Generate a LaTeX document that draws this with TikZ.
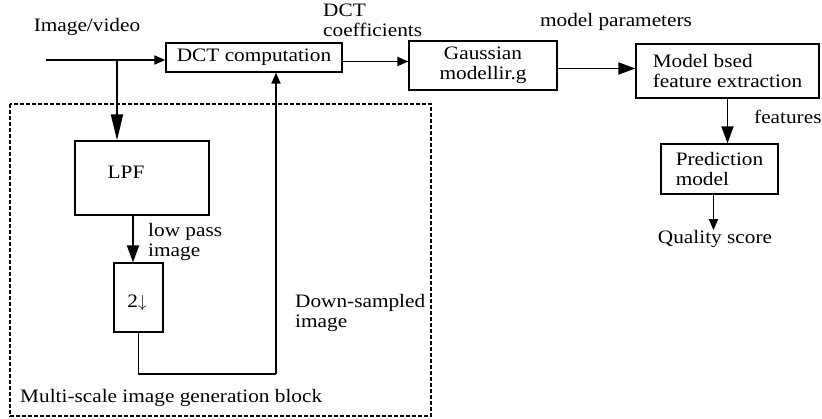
\documentclass[tikz,border=0pt]{standalone}
\usepackage{fontspec}
\setmainfont[FakeStretch=1.12]{Liberation Serif}
\usetikzlibrary{arrows.meta}
\usetikzlibrary{calc}

\begin{document}
\begin{tikzpicture}[x=1pt, y=-1pt,
  every node/.style={font=\fontsize{19}{20}\selectfont},
  blk/.style={draw, line width=1.3pt, inner sep=0},
  lbl/.style={inner sep=0, align=left},
  arr/.style={line width=1.8pt, -{Triangle[length=11pt,width=9pt]}},
  midarr/.style={line width=1.8pt, -{Triangle[length=17pt,width=12pt]}},
  bigarr/.style={line width=1.8pt, -{Triangle[length=26pt,width=12pt]}}]
\useasboundingbox (0,0) rectangle (822,419);
\draw[line width=1.2pt, dash pattern=on 4pt off 2pt] (10,104) rectangle (431,416);
\node[blk, minimum width=176, minimum height=29] (dct) at (254,57.5) {DCT computation};
\node[blk, minimum width=148, minimum height=49, align=center] (gauss) at (483,65.5) {Gaussian\\modellir.g};
\node[blk, minimum width=183, minimum height=54, align=left] (model) at (727.5,71) {Model bsed\\feature extraction};
\node[blk, minimum width=117, minimum height=50, align=left] (pred) at (719.5,169) {Prediction\\model};
\node[blk, minimum width=134, minimum height=74] (lpf) at (142,178) {};
\node[lbl] (lpftxt) at (126,172) {LPF};
\node[blk, minimum width=49, minimum height=69] (ds) at (138.5,297.5) {};
\node[lbl] (dstxt) at (137,303) {2$\Big\downarrow$};
\node[lbl] (imgvid) at (87,27) {Image/video};
\node[lbl, anchor=west] (coef) at (323,20) {DCT\\coefficients};
\node[lbl] (param) at (616,22) {model parameters};
\node[lbl, anchor=west] (feat) at (754,117) {features};
\node[lbl] (qual) at (715,239) {Quality score};
\node[lbl, anchor=west] (lowpass) at (148,242) {low pass\\image};
\node[lbl, anchor=west] (dsimg) at (295,313) {Down-sampled\\image};
\node[lbl, anchor=west] (block) at (20,398) {Multi-scale image generation block};
\coordinate (in) at (46,60);
\coordinate (split) at (117,60);
\coordinate (turn) at (276,374);
\draw[line width=1.8pt] (in) -- (split);
\draw[arr] (split) -- (dct.west |- split);
\draw[bigarr] (split) -- (split |- lpf.north);
\draw[midarr] ([xshift=-9pt]lpf.south) -- ([xshift=-9pt]lpf.south |- ds.north);
\draw[line width=1.3pt] (ds.south) |- (turn);
\draw[arr] (turn) -- (turn |- dct.south);
\draw[arr] ([yshift=-4pt]dct.east) -- ([yshift=-4pt]dct.east -| gauss.west);
\draw[midarr] ([yshift=-3pt]gauss.east) -- ([yshift=-3pt]gauss.east -| model.west);
\draw[midarr] (model.south) -- (model.south |- pred.north);
\draw[arr] ([xshift=-6pt]pred.south) -- ([xshift=-6pt]pred.south |- qual.north);
\end{tikzpicture}
\end{document}
